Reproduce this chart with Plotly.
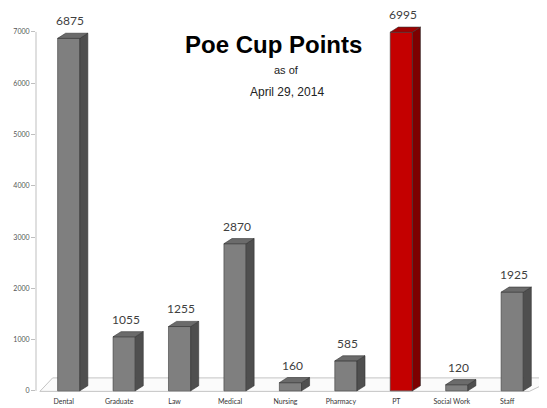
import plotly.graph_objects as go

categories = ["Dental", "Graduate", "Law", "Medical", "Nursing", "Pharmacy", "PT", "Social Work", "Staff"]
points = [6875, 1055, 1255, 2870, 160, 585, 6995, 120, 1925]
highlight = ["PT"]
y_ticks = [0, 1000, 2000, 3000, 4000, 5000, 6000, 7000]

FRONT_GRAY, SIDE_GRAY, TOP_GRAY = "#7f7f7f", "#4f4f4f", "#6b6b6b"
FRONT_RED, SIDE_RED, TOP_RED = "#c40000", "#7d0000", "#a00000"

xs = list(range(len(categories)))
off0, w, dx, dy = -0.11, 0.40, 0.145, 100

fig = go.Figure()

front_cols = [FRONT_RED if c in highlight else FRONT_GRAY for c in categories]
fig.add_trace(go.Bar(
    x=xs, y=points, width=w, offset=off0,
    marker=dict(color=front_cols, line=dict(color="#3c3c3c", width=0.6)),
    cliponaxis=False, hoverinfo="skip", showlegend=False))

for i, (c, v) in enumerate(zip(categories, points)):
    red = c in highlight
    x0 = i + off0
    x1 = x0 + w
    fig.add_trace(go.Scatter(
        x=[x1, x1 + dx, x1 + dx, x1, x1], y=[0, dy, v + dy, v, 0],
        mode="lines", fill="toself", fillcolor=SIDE_RED if red else SIDE_GRAY,
        line=dict(color="#333333", width=0.6), hoverinfo="skip", showlegend=False))
    fig.add_trace(go.Scatter(
        x=[x0, x0 + dx, x1 + dx, x1, x0], y=[v, v + dy, v + dy, v, v],
        mode="lines", fill="toself", fillcolor=TOP_RED if red else TOP_GRAY,
        line=dict(color="#333333", width=0.6), hoverinfo="skip", showlegend=False))
    fig.add_annotation(x=x0 + w / 2 + 0.03, y=v + dy, text=f"{v}", showarrow=False,
                       yanchor="bottom", yshift=3,
                       font=dict(family="Lato, Liberation Sans", size=12, color="#404040"))

# floor (decoration)
fig.add_shape(type="path", xref="x", yref="y", layer="below",
              path="M -0.43,-10 L -0.2,253 L 8.9,253 L 8.4,-10 Z",
              fillcolor="#fbfbfb", line=dict(color="#c4c4c4", width=1))
# y axis line
fig.add_shape(type="line", xref="paper", yref="y", x0=0, x1=0, y0=0, y1=7000,
              line=dict(color="#bfbfbf", width=1))

fig.add_annotation(xref="paper", yref="paper", x=0.465, y=0.919, xanchor="center", yanchor="middle",
                   text="<b>Poe Cup Points</b>", showarrow=False,
                   font=dict(family="Liberation Sans, Arial", size=24, color="#000000"))
fig.add_annotation(xref="paper", yref="paper", x=0.492, y=0.853, xanchor="center", yanchor="middle",
                   text="as of", showarrow=False,
                   font=dict(family="Liberation Sans, Arial", size=11, color="#222222"))
fig.add_annotation(xref="paper", yref="paper", x=0.492, y=0.796, xanchor="center", yanchor="middle",
                   text="April 29, 2014", showarrow=False,
                   font=dict(family="Liberation Sans, Arial", size=12, color="#222222"))

# page body has an 8px margin, so the figure is sized to fit the 547x408 window
fig.update_layout(
    width=539, height=400,
    margin=dict(l=28, r=1, t=6, b=12),
    paper_bgcolor="white", plot_bgcolor="white",
    xaxis=dict(range=[-0.5, 8.7], tickvals=xs, ticktext=categories,
               showgrid=False, zeroline=False, showline=False, ticks="",
               automargin=False,
               tickfont=dict(family="Lato, Liberation Sans", size=7, color="#333333")),
    yaxis=dict(range=[-100, 7350], tickvals=y_ticks, showgrid=False, zeroline=False,
               showline=False, ticks="outside", ticklen=4, tickcolor="#bfbfbf",
               automargin=False,
               tickfont=dict(family="Lato, Liberation Sans", size=7, color="#555555")),
    bargap=0.5,
)

fig.write_html("out.html")
